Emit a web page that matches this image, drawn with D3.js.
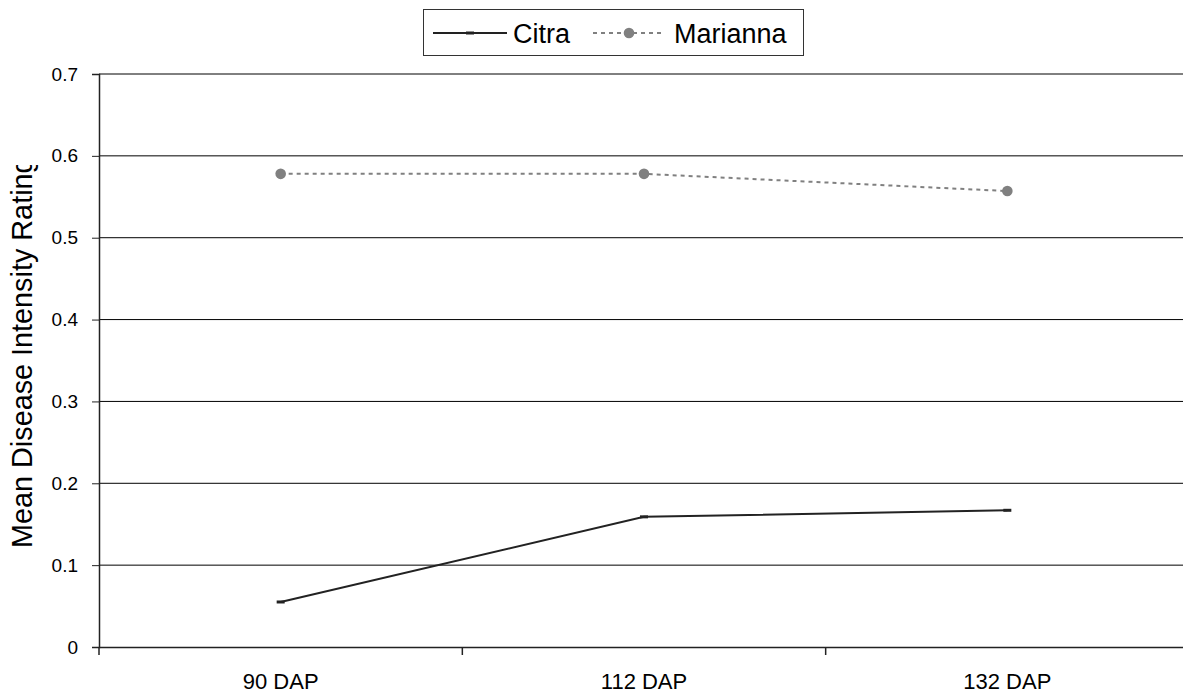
<!DOCTYPE html>
<html>
<head>
<meta charset="utf-8">
<script src="https://cdn.jsdelivr.net/npm/d3@7"></script>
<style>
  html, body { margin: 0; padding: 0; background: #fff; overflow: hidden; }
  svg { display: block; font-family: "Liberation Sans", Arial, sans-serif; }
</style>
</head>
<body>
<svg id="chart" width="1183" height="696"></svg>
<script>
// Sampling dates and mean ratings per location
const categories = ["90 DAP", "112 DAP", "132 DAP"];
const citra = [0.055, 0.159, 0.167];
const marianna = [0.578, 0.578, 0.557];
const yTicks = [0, 0.1, 0.2, 0.3, 0.4, 0.5, 0.6, 0.7];
const yTitle = "Mean Disease Intensity Rating";
const seriesNames = ["Citra", "Marianna"];

const svg = d3.select("#chart");

const plot = { left: 99, right: 1189, top: 74, bottom: 647 };

const x = d3.scaleBand().domain(categories).range([plot.left, plot.right]);
const y = d3.scaleLinear().domain([0, 0.7]).range([plot.bottom, plot.top]);
const cx = c => x(c) + x.bandwidth() / 2;

// Horizontal gridlines
svg.append("g")
  .selectAll("line")
  .data(yTicks.filter(t => t > 0))
  .join("line")
  .attr("x1", plot.left).attr("x2", plot.right)
  .attr("y1", d => y(d)).attr("y2", d => y(d))
  .attr("stroke", "#000").attr("stroke-width", 1);

// Y axis
const yAxis = svg.append("g")
  .attr("transform", `translate(${plot.left},0)`)
  .call(d3.axisLeft(y).tickValues(yTicks).tickFormat(d3.format("")).tickSizeOuter(0).tickSize(7).tickPadding(14));
yAxis.select(".domain").attr("stroke", "#222").attr("stroke-width", 1.5);
yAxis.selectAll(".tick line").attr("stroke", "#222");
yAxis.selectAll(".tick text")
  .attr("font-size", 19).attr("fill", "#000")
  .attr("font-family", "Liberation Sans, Arial, sans-serif");

// X axis with ticks on band boundaries
const xAxis = svg.append("g")
  .attr("transform", `translate(0,${plot.bottom})`)
  .call(d3.axisBottom(x).tickSize(0).tickPadding(26));
xAxis.select(".domain").attr("stroke", "#222").attr("stroke-width", 1.5);
xAxis.selectAll(".tick text")
  .attr("font-size", 22).attr("fill", "#000")
  .attr("font-family", "Liberation Sans, Arial, sans-serif");
xAxis.selectAll(".boundary")
  .data(categories.map(c => x(c)).concat([plot.right]))
  .join("line")
  .attr("class", "boundary")
  .attr("x1", d => d).attr("x2", d => d)
  .attr("y1", 0).attr("y2", 8)
  .attr("stroke", "#222").attr("stroke-width", 1.5);

// Y axis title, clipped at the top
svg.append("clipPath").attr("id", "titleClip")
  .append("rect").attr("x", 0).attr("y", 165).attr("width", 60).attr("height", 500);
svg.append("g")
  .attr("clip-path", "url(#titleClip)")
  .append("text")
  .attr("transform", "translate(32,548) rotate(-90)")
  .attr("text-anchor", "start")
  .attr("font-size", 28.8)
  .attr("fill", "#000")
  .text(yTitle);

// Marianna: dashed gray line with round markers
const line = d3.line().x(d => cx(d.c)).y(d => y(d.v));
const mData = categories.map((c, i) => ({ c, v: marianna[i] }));
const cData = categories.map((c, i) => ({ c, v: citra[i] }));

svg.append("path")
  .datum(mData)
  .attr("d", line)
  .attr("fill", "none")
  .attr("stroke", "#808080")
  .attr("stroke-width", 2)
  .attr("stroke-dasharray", "4,4");
svg.append("g").selectAll("circle")
  .data(mData)
  .join("circle")
  .attr("cx", d => cx(d.c)).attr("cy", d => y(d.v))
  .attr("r", 5.3)
  .attr("fill", "#808080");

// Citra: solid dark line with short dash markers
svg.append("path")
  .datum(cData)
  .attr("d", line)
  .attr("fill", "none")
  .attr("stroke", "#222")
  .attr("stroke-width", 2);
svg.append("g").selectAll("rect")
  .data(cData)
  .join("rect")
  .attr("x", d => cx(d.c) - 4).attr("y", d => y(d.v) - 1.5)
  .attr("width", 8).attr("height", 3)
  .attr("fill", "#222");

// Legend
const legend = svg.append("g");
legend.append("rect")
  .attr("x", 423.5).attr("y", 9.5).attr("width", 380).attr("height", 46)
  .attr("fill", "#fff").attr("stroke", "#333").attr("stroke-width", 1);

const legY = 33;
// Citra entry
legend.append("line")
  .attr("x1", 433).attr("x2", 507).attr("y1", legY).attr("y2", legY)
  .attr("stroke", "#222").attr("stroke-width", 2);
legend.append("rect")
  .attr("x", 466).attr("y", legY - 1.5).attr("width", 8).attr("height", 3)
  .attr("fill", "#222");
legend.append("text")
  .attr("x", 513).attr("y", legY + 10)
  .attr("font-size", 27).attr("fill", "#000")
  .text(seriesNames[0]);
// Marianna entry
legend.append("line")
  .attr("x1", 593).attr("x2", 665).attr("y1", legY).attr("y2", legY)
  .attr("stroke", "#808080").attr("stroke-width", 2)
  .attr("stroke-dasharray", "4,4");
legend.append("circle")
  .attr("cx", 629).attr("cy", legY).attr("r", 5.3)
  .attr("fill", "#808080");
legend.append("text")
  .attr("x", 674).attr("y", legY + 10)
  .attr("font-size", 27).attr("fill", "#000")
  .text(seriesNames[1]);
</script>
</body>
</html>
